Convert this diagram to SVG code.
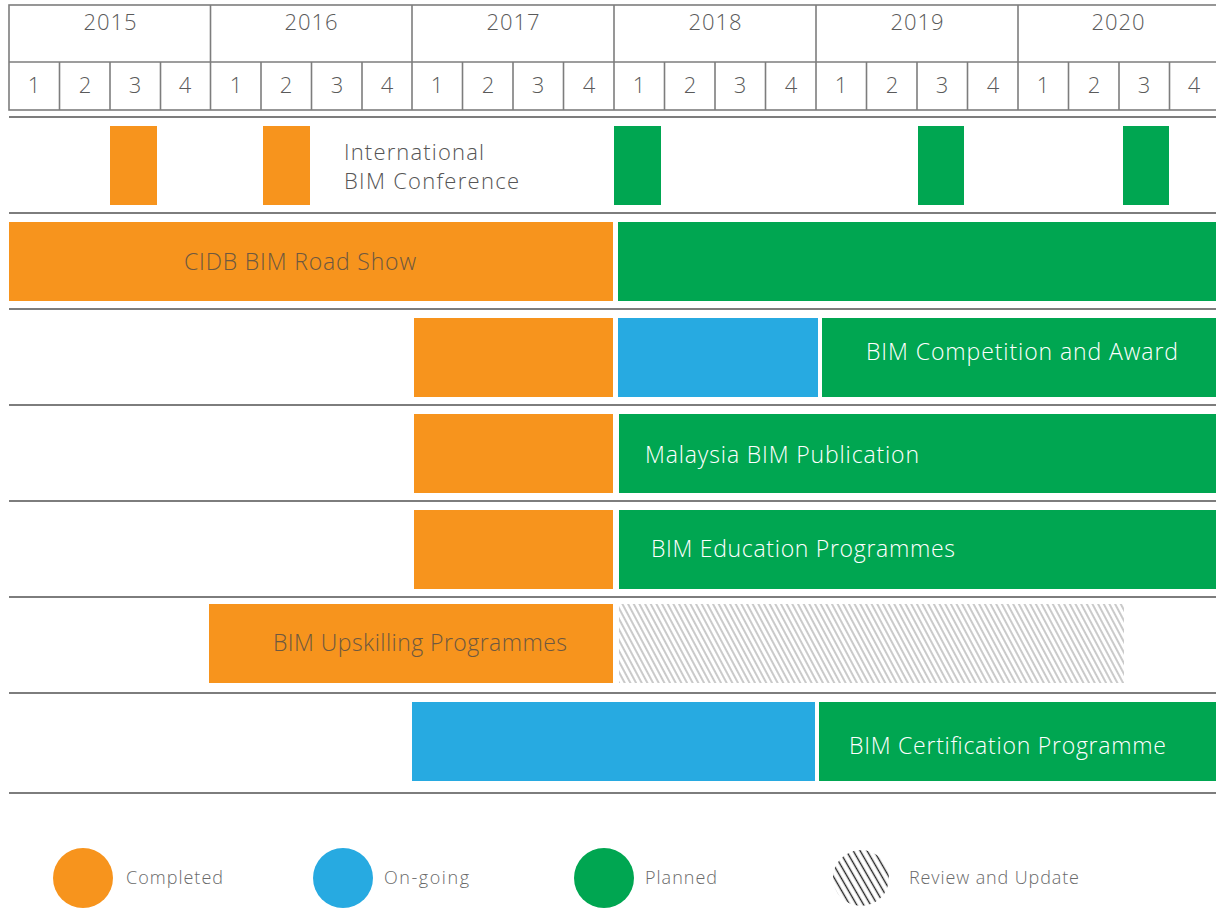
<svg xmlns="http://www.w3.org/2000/svg" width="1216" height="909" viewBox="0 0 1216 909">
<style>
.t{font-family:"Open Sans",Lato,"Liberation Sans",sans-serif;font-weight:300;font-size:22px}
.bt{font-size:23px}
.hd{fill:#5a5a5a;text-anchor:middle}
.grid{fill:none;stroke:#7d7d7d;stroke-width:1.6}
.sep{stroke:#7d7d7d;stroke-width:2}
.o{fill:#F7941D}
.b{fill:#27AAE1}
.g{fill:#00A651}
.w{fill:#ffffff}
.dk{fill:#6e5840}
.gr{fill:#555555}
.lg{fill:#6a6a6a;font-size:18px}
</style>
<defs>
<pattern id="hatch" patternUnits="userSpaceOnUse" width="5" height="10" patternTransform="rotate(-28)">
<rect width="5" height="10" fill="#ffffff"/>
<line x1="1" y1="0" x2="1" y2="10" stroke="#bdbdbd" stroke-width="1.6"/>
</pattern>
<pattern id="hatchDark" patternUnits="userSpaceOnUse" width="6" height="10" patternTransform="rotate(-30)">
<line x1="1.5" y1="0" x2="1.5" y2="10" stroke="#222222" stroke-width="1.4"/>
</pattern>
</defs>
<rect width="1216" height="909" fill="#ffffff"/>

<g id="timeline-header">
<rect class="grid" x="9" y="5" width="1220" height="105"/>
<line class="grid" x1="9" y1="62" x2="1216" y2="62"/>
<g class="grid">
<line x1="210.5" y1="5" x2="210.5" y2="110"/>
<line x1="412" y1="5" x2="412" y2="110"/>
<line x1="614" y1="5" x2="614" y2="110"/>
<line x1="816" y1="5" x2="816" y2="110"/>
<line x1="1018" y1="5" x2="1018" y2="110"/>
<line x1="59.5" y1="62" x2="59.5" y2="110"/>
<line x1="110" y1="62" x2="110" y2="110"/>
<line x1="160.5" y1="62" x2="160.5" y2="110"/>
<line x1="261" y1="62" x2="261" y2="110"/>
<line x1="311.5" y1="62" x2="311.5" y2="110"/>
<line x1="362" y1="62" x2="362" y2="110"/>
<line x1="462.5" y1="62" x2="462.5" y2="110"/>
<line x1="513" y1="62" x2="513" y2="110"/>
<line x1="563.5" y1="62" x2="563.5" y2="110"/>
<line x1="664.5" y1="62" x2="664.5" y2="110"/>
<line x1="715" y1="62" x2="715" y2="110"/>
<line x1="765.5" y1="62" x2="765.5" y2="110"/>
<line x1="866.5" y1="62" x2="866.5" y2="110"/>
<line x1="917" y1="62" x2="917" y2="110"/>
<line x1="967.5" y1="62" x2="967.5" y2="110"/>
<line x1="1068.5" y1="62" x2="1068.5" y2="110"/>
<line x1="1119" y1="62" x2="1119" y2="110"/>
<line x1="1169.5" y1="62" x2="1169.5" y2="110"/>
</g>
<g class="t hd">
<text x="110" y="30" textLength="53" lengthAdjust="spacing">2015</text>
<text x="311" y="30" textLength="53" lengthAdjust="spacing">2016</text>
<text x="513" y="30" textLength="53" lengthAdjust="spacing">2017</text>
<text x="715" y="30" textLength="53" lengthAdjust="spacing">2018</text>
<text x="917" y="30" textLength="53" lengthAdjust="spacing">2019</text>
<text x="1118" y="30" textLength="53" lengthAdjust="spacing">2020</text>
</g>
<g class="t hd">
<text x="34" y="93">1</text><text x="85" y="93">2</text><text x="135" y="93">3</text><text x="185" y="93">4</text>
<text x="236" y="93">1</text><text x="286" y="93">2</text><text x="337" y="93">3</text><text x="387" y="93">4</text>
<text x="437" y="93">1</text><text x="488" y="93">2</text><text x="538" y="93">3</text><text x="589" y="93">4</text>
<text x="639" y="93">1</text><text x="690" y="93">2</text><text x="740" y="93">3</text><text x="791" y="93">4</text>
<text x="841" y="93">1</text><text x="892" y="93">2</text><text x="942" y="93">3</text><text x="993" y="93">4</text>
<text x="1043" y="93">1</text><text x="1094" y="93">2</text><text x="1144" y="93">3</text><text x="1194" y="93">4</text>
</g>
</g>

<g id="row-separators">
<line class="sep" x1="9" y1="117" x2="1216" y2="117"/>
<line class="sep" x1="9" y1="213" x2="1216" y2="213"/>
<line class="sep" x1="9" y1="309" x2="1216" y2="309"/>
<line class="sep" x1="9" y1="405" x2="1216" y2="405"/>
<line class="sep" x1="9" y1="501" x2="1216" y2="501"/>
<line class="sep" x1="9" y1="597" x2="1216" y2="597"/>
<line class="sep" x1="9" y1="693" x2="1216" y2="693"/>
<line class="sep" x1="9" y1="793" x2="1216" y2="793"/>
</g>

<g id="international-bim-conference">
<rect class="o" x="110" y="126" width="47" height="79"/>
<rect class="o" x="263" y="126" width="47" height="79"/>
<rect class="g" x="614" y="126" width="47" height="79"/>
<rect class="g" x="918" y="126" width="46" height="79"/>
<rect class="g" x="1123" y="126" width="46" height="79"/>
<text class="t gr" x="344" y="160" textLength="140" lengthAdjust="spacing">International</text>
<text class="t gr" x="344" y="189" textLength="175" lengthAdjust="spacing">BIM Conference</text>
</g>

<g id="cidb-bim-road-show">
<rect class="o" x="9" y="222" width="604" height="79"/>
<rect class="g" x="618" y="222" width="598" height="79"/>
<text class="t bt dk" x="184" y="270" textLength="232" lengthAdjust="spacing">CIDB BIM Road Show</text>
</g>

<g id="bim-competition-and-award">
<rect class="o" x="414" y="318" width="199" height="79"/>
<rect class="b" x="618" y="318" width="200" height="79"/>
<rect class="g" x="822" y="318" width="394" height="79"/>
<text class="t bt w" x="866" y="360" textLength="312" lengthAdjust="spacing">BIM Competition and Award</text>
</g>

<g id="malaysia-bim-publication">
<rect class="o" x="414" y="414" width="199" height="79"/>
<rect class="g" x="619" y="414" width="597" height="79"/>
<text class="t bt w" x="645" y="463" textLength="274" lengthAdjust="spacing">Malaysia BIM Publication</text>
</g>

<g id="bim-education-programmes">
<rect class="o" x="414" y="510" width="199" height="79"/>
<rect class="g" x="619" y="510" width="597" height="79"/>
<text class="t bt w" x="651" y="557" textLength="304" lengthAdjust="spacing">BIM Education Programmes</text>
</g>

<g id="bim-upskilling-programmes">
<rect class="o" x="209" y="604" width="404" height="79"/>
<rect x="619" y="604" width="505" height="79" fill="url(#hatch)"/>
<text class="t bt dk" x="273" y="651" textLength="294" lengthAdjust="spacing">BIM Upskilling Programmes</text>
</g>

<g id="bim-certification-programme">
<rect class="b" x="412" y="702" width="403" height="79"/>
<rect class="g" x="819" y="702" width="397" height="79"/>
<text class="t bt w" x="849" y="754" textLength="317" lengthAdjust="spacing">BIM Certification Programme</text>
</g>

<g id="legend">
<circle class="o" cx="83" cy="878" r="30"/>
<text class="t lg" x="126" y="884" textLength="97" lengthAdjust="spacing">Completed</text>
<circle class="b" cx="343" cy="878" r="30"/>
<text class="t lg" x="384" y="884" textLength="85" lengthAdjust="spacing">On-going</text>
<circle class="g" cx="604" cy="878" r="30"/>
<text class="t lg" x="645" y="884" textLength="72" lengthAdjust="spacing">Planned</text>
<circle cx="861" cy="878" r="28" fill="url(#hatchDark)"/>
<text class="t lg" x="909" y="884" textLength="170" lengthAdjust="spacing">Review and Update</text>
</g>
</svg>
